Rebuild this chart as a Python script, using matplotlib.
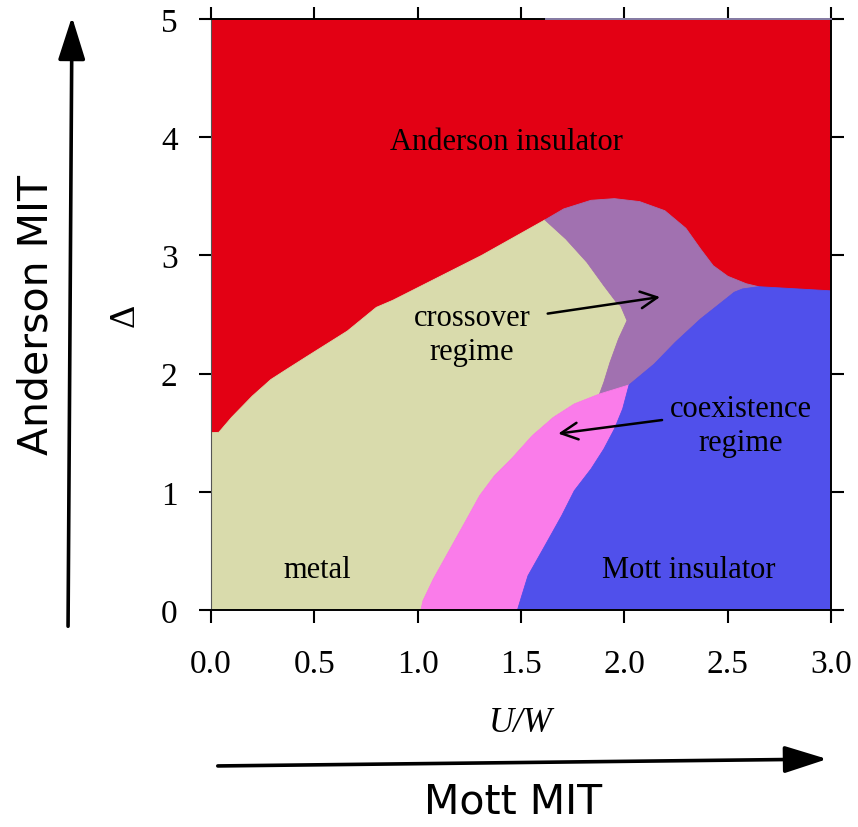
import matplotlib
matplotlib.use("Agg")
import matplotlib.pyplot as plt
import numpy as np

# Phase boundaries in the (U/W, Delta) plane
anderson_metal_x = [0.0, 0.038, 0.10, 0.20, 0.29, 0.37, 0.46, 0.56, 0.66, 0.80, 0.88, 1.31, 1.616]
anderson_metal_y = [1.50, 1.503, 1.63, 1.81, 1.95, 2.04, 2.14, 2.25, 2.36, 2.56, 2.62, 3.00, 3.30]

anderson_cross_x = [1.616, 1.707, 1.839, 1.952, 2.074, 2.196, 2.298, 2.369, 2.430, 2.501, 2.59, 2.65]
anderson_cross_y = [3.30, 3.393, 3.466, 3.480, 3.455, 3.378, 3.229, 3.054, 2.913, 2.823, 2.76, 2.735]

anderson_mott_x = [2.65, 2.80, 3.0]
anderson_mott_y = [2.735, 2.72, 2.70]

cross_mott_x = [2.65, 2.572, 2.532, 2.491, 2.369, 2.247, 2.145, 2.023]
cross_mott_y = [2.735, 2.716, 2.688, 2.631, 2.462, 2.265, 2.081, 1.904]

cross_metal_x = [1.616, 1.717, 1.819, 1.901, 1.962, 1.982, 2.013, 1.972, 1.931, 1.901, 1.880]
cross_metal_y = [3.30, 3.139, 2.942, 2.744, 2.603, 2.575, 2.448, 2.293, 2.096, 1.926, 1.827]

coex_metal_x = [1.880, 1.758, 1.657, 1.555, 1.453, 1.372, 1.300, 1.229, 1.148, 1.076, 1.026, 1.016]
coex_metal_y = [1.827, 1.743, 1.630, 1.475, 1.277, 1.136, 0.967, 0.742, 0.488, 0.262, 0.079, 0.0]

coex_mott_x = [2.023, 1.992, 1.952, 1.901, 1.839, 1.758, 1.697, 1.616, 1.534, 1.504, 1.483]
coex_mott_y = [1.904, 1.701, 1.531, 1.362, 1.193, 1.009, 0.798, 0.544, 0.290, 0.121, 0.0]

x_ticks = [0.0, 0.5, 1.0, 1.5, 2.0, 2.5, 3.0]
x_tick_labels = ["0.0", "0.5", "1.0", "1.5", "2.0", "2.5", "3.0"]
y_ticks = [0, 1, 2, 3, 4, 5]
y_tick_labels = ["0", "1", "2", "3", "4", "5"]

colors = {
    "anderson": "#E30014",
    "metal": "#D9DBAC",
    "cross": "#A171B0",
    "coex": "#FA7CEA",
    "mott": "#5050EB",
}

serif = "Liberation Serif"

fig = plt.figure(figsize=(8.58, 8.28), dpi=100)
ax = fig.add_axes([0.2459, 0.2621, 0.7226, 0.7138])
ax.set_xlim(0, 3)
ax.set_ylim(0, 5)


def poly(*segments):
    xs, ys = [], []
    for sx, sy in segments:
        xs.extend(sx)
        ys.extend(sy)
    return np.array(xs), np.array(ys)


rev = lambda a: list(a)[::-1]

# Anderson insulator fills the whole plane; other phases are painted on top
ax.fill([0, 3, 3, 0], [0, 0, 5, 5], color=colors["anderson"], lw=0)

mx, my = poly(([0.0], [0.0]), (anderson_metal_x, anderson_metal_y),
              (cross_metal_x, cross_metal_y), (coex_metal_x, coex_metal_y))
ax.fill(mx, my, facecolor=colors["metal"], edgecolor=colors["metal"], lw=0.6)

cx, cy = poly((anderson_cross_x, anderson_cross_y), (cross_mott_x, cross_mott_y),
              (rev(cross_metal_x), rev(cross_metal_y)))
ax.fill(cx, cy, facecolor=colors["cross"], edgecolor=colors["cross"], lw=0.6)

px_, py_ = poly((rev(coex_metal_x), rev(coex_metal_y)), (coex_mott_x, coex_mott_y))
ax.fill(px_, py_, facecolor=colors["coex"], edgecolor=colors["coex"], lw=0.6)

bx, by = poly((rev(coex_mott_x), rev(coex_mott_y)), (rev(cross_mott_x), rev(cross_mott_y)),
              (anderson_mott_x, anderson_mott_y), ([3.0], [0.0]))
ax.fill(bx, by, facecolor=colors["mott"], edgecolor=colors["mott"], lw=0.6)

# Frame and ticks on all four sides
for side in ["left", "right", "top", "bottom"]:
    ax.spines[side].set_linewidth(1.4)
    ax.spines[side].set_color("black")
    ax.spines[side].set_zorder(5)
ax.spines["left"].set_linewidth(0.8)
ax.spines["left"].set_color("#555555")
ax.plot([1.62, 3.0], [5.0, 5.0], color="#8A7FA8", lw=1.4, zorder=6, clip_on=False)

ax.set_xticks(x_ticks)
ax.set_xticklabels(x_tick_labels)
ax.set_yticks(y_ticks)
ax.set_yticklabels(y_tick_labels)
ax.tick_params(axis="both", direction="out", length=9, width=1.5, color="black",
               top=True, right=True, labelsize=24)
ax.tick_params(axis="x", pad=19)
ax.tick_params(axis="y", pad=15)
for lab in ax.get_xticklabels() + ax.get_yticklabels():
    lab.set_fontfamily(serif)

ax.set_xlabel("U/W", fontfamily=serif, fontstyle="italic", fontsize=25, labelpad=19)
ax.set_ylabel("Δ", fontfamily=serif, fontsize=26, labelpad=14)

# Phase labels
ax.text(1.43, 3.96, "Anderson insulator", fontfamily=serif, fontsize=22,
        ha="center", va="center")
ax.text(1.263, 2.33, "crossover\nregime", fontfamily=serif, fontsize=22,
        ha="center", va="center", linespacing=1.2)
ax.text(2.564, 1.56, "coexistence\nregime", fontfamily=serif, fontsize=22,
        ha="center", va="center", linespacing=1.2)
ax.text(0.513, 0.34, "metal", fontfamily=serif, fontsize=22, ha="center", va="center")
ax.text(2.31, 0.34, "Mott insulator", fontfamily=serif, fontsize=22, ha="center", va="center")

ax.annotate("", xy=(2.186, 2.651), xytext=(1.616, 2.504),
            arrowprops=dict(arrowstyle="->", color="black", lw=1.8,
                            mutation_scale=30))
ax.annotate("", xy=(1.667, 1.489), xytext=(2.196, 1.610),
            arrowprops=dict(arrowstyle="->", color="black", lw=1.8,
                            mutation_scale=30))

# Direction arrows outside the axes
fig.patches.append(matplotlib.patches.FancyArrowPatch(
    (0.0793, 0.2391), (0.0839, 0.9819), transform=fig.transFigure,
    arrowstyle="-|>,head_length=1.2,head_width=0.38", mutation_scale=22,
    color="black", lw=2.6))
fig.patches.append(matplotlib.patches.FancyArrowPatch(
    (0.2506, 0.0737), (0.9674, 0.0821), transform=fig.transFigure,
    arrowstyle="-|>,head_length=1.2,head_width=0.38", mutation_scale=22,
    color="black", lw=2.6))

fig.text(0.0431, 0.6196, "Anderson MIT", fontfamily="DejaVu Sans", fontsize=29.5,
         rotation=90, ha="center", va="center")
fig.text(0.598, 0.0302, "Mott MIT", fontfamily="DejaVu Sans", fontsize=29.5,
         ha="center", va="center")

fig.savefig("out.png", dpi=100)
